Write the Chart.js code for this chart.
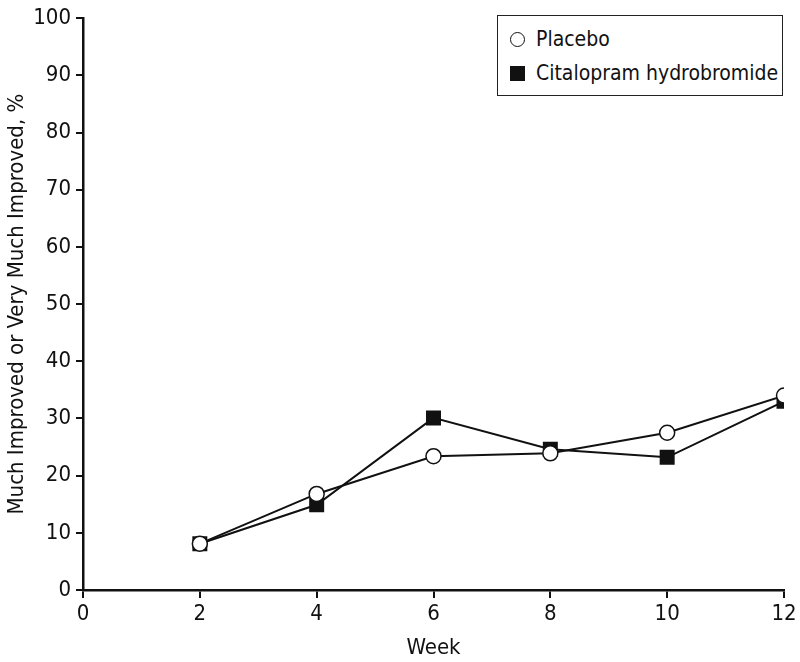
<!DOCTYPE html>
<html>
<head>
<meta charset="utf-8">
<script src="https://cdn.jsdelivr.net/npm/chart.js@4.4.1/dist/chart.umd.min.js"></script>
<style>
  html, body { margin: 0; padding: 0; background: #fff; }
  #wrap { position: relative; width: 800px; height: 662px; }
  #legend {
    position: absolute; left: 497px; top: 15px; width: 284px; height: 79px;
    border: 1.5px solid #222; background: #fff;
    font-family: 'Liberation Sans Narrow', 'DejaVu Sans Condensed', sans-serif;
    font-size: 21px; color: #111;
  }
  .row { position: absolute; left: 12px; height: 24px; line-height: 24px; white-space: nowrap; }
  .mk { display: inline-block; width: 13px; height: 13px; vertical-align: -1px; margin-right: 11px; box-sizing: border-box; }
  .mk.circ { border: 1.5px solid #111; border-radius: 50%; background: #fff; width: 15px; height: 15px; }
  .mk.sq { background: #111; width: 15px; height: 15px; }
</style>
</head>
<body>
<div id="wrap">
  <canvas id="c" width="800" height="662"></canvas>
  <div id="legend"></div>
</div>
<script>
// Weeks and % much / very much improved
var weeks = [2, 4, 6, 8, 10, 12];
var placebo = [8.1, 16.8, 23.4, 23.9, 27.5, 34.0];
var citalopram = [8.1, 14.9, 30.1, 24.6, 23.2, 33.0];
var xTicks = [0, 2, 4, 6, 8, 10, 12];
var yTicks = [0, 10, 20, 30, 40, 50, 60, 70, 80, 90, 100];
var seriesNames = ['Placebo', 'Citalopram hydrobromide'];

var FONT = "'Liberation Sans Narrow', 'DejaVu Sans Condensed', sans-serif";

function pts(vals) {
  return vals.map(function(v, i) { return { x: weeks[i], y: v }; });
}

// simple html legend, boxed like the original
var lg = document.getElementById('legend');
lg.innerHTML =
  '<div class="row" style="top:11px"><span class="mk circ"></span>' + seriesNames[0] + '</div>' +
  '<div class="row" style="top:45px"><span class="mk sq"></span>' + seriesNames[1] + '</div>';

new Chart(document.getElementById('c'), {
  type: 'line',
  data: {
    datasets: [{
      label: seriesNames[0],
      data: pts(placebo),
      borderColor: '#111', borderWidth: 2,
      pointStyle: 'circle', pointRadius: 7.5,
      pointBackgroundColor: '#fff', pointBorderColor: '#111', pointBorderWidth: 1.5,
      tension: 0, fill: false
    }, {
      label: seriesNames[1],
      data: pts(citalopram),
      borderColor: '#111', borderWidth: 2,
      pointStyle: 'rect', pointRadius: 10.6,
      pointBackgroundColor: '#111', pointBorderColor: '#111', pointBorderWidth: 0,
      tension: 0, fill: false
    }]
  },
  options: {
    responsive: false, animation: false,
    layout: { padding: { left: 0, right: 16, top: 14, bottom: 0 } },
    plugins: { legend: { display: false }, tooltip: { enabled: false } },
    scales: {
      x: {
        type: 'linear', min: 0, max: 12,
        afterBuildTicks: function(s) { s.ticks = xTicks.map(function(v) { return { value: v }; }); },
        afterFit: function(s) { s.height = 72; },
        grid: { drawOnChartArea: false, color: '#111', lineWidth: 2, tickLength: 8 },
        border: { color: '#111', width: 2.5 },
        ticks: { color: '#111', font: { family: FONT, size: 22 }, padding: 3, maxRotation: 0 },
        title: { display: true, text: 'Week', color: '#111', font: { family: FONT, size: 22 }, padding: { top: 0, bottom: 1 } }
      },
      y: {
        min: 0, max: 100,
        afterBuildTicks: function(s) { s.ticks = yTicks.map(function(v) { return { value: v }; }); },
        afterFit: function(s) { s.width = 83; },
        grid: { drawOnChartArea: false, color: '#111', lineWidth: 2, tickLength: 7 },
        border: { color: '#111', width: 2.5 },
        ticks: { color: '#111', font: { family: FONT, size: 22 }, padding: 5 },
        title: { display: true, text: 'Much Improved or Very Much Improved, %', color: '#111', font: { family: FONT, size: 22 }, padding: { top: 4, bottom: 0 } }
      }
    }
  }
});
</script>
</body>
</html>
